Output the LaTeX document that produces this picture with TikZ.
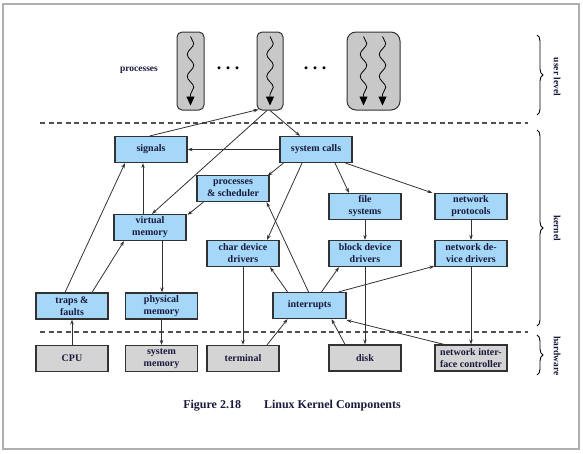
\documentclass[tikz,border=0pt]{standalone}
\usepackage{fontspec}
\setmainfont{Liberation Serif}
\usetikzlibrary{arrows.meta,decorations.pathmorphing,decorations.pathreplacing}
\definecolor{txt}{RGB}{25,25,60}
\definecolor{kblue}{RGB}{165,215,248}
\definecolor{hgray}{RGB}{212,212,212}
\definecolor{pgray}{RGB}{200,200,200}
\definecolor{edgec}{RGB}{50,50,50}
\definecolor{sepc}{RGB}{80,80,80}
\definecolor{framec}{RGB}{175,175,175}
\begin{document}
\begin{tikzpicture}[x=1pt,y=-1pt,
 box/.style={draw=edgec, line width=1.2pt, minimum width=72pt, minimum height=26pt, inner sep=0pt, align=center, font=\fontsize{10}{12}\selectfont\bfseries, text=txt},
 kbox/.style={box, fill=kblue},
 hbox/.style={box, fill=hgray},
 pbox/.style={draw=edgec, line width=1pt, fill=pgray, inner sep=0pt},
 conn/.style={draw=edgec, line width=0.8pt, -{Stealth[length=5pt,width=3.5pt]}},
 wave/.style={draw=black, line width=0.8pt, decorate, decoration={snake, amplitude=3.3pt, segment length=22pt, post length=10pt}, -{Triangle[length=9pt,width=8pt]}},
 sep/.style={draw=sepc, line width=1.3pt, dash pattern=on 5pt off 3.5pt},
 side/.style={font=\fontsize{9.5}{11}\selectfont\bfseries, text=txt, rotate=-90},
 brc/.style={draw=black, line width=0.9pt, decorate, decoration={brace, amplitude=6pt}}
]
\useasboundingbox (0,0) rectangle (583,453);
\draw[framec, line width=1.5pt] (3,4) rectangle (579,449);

% user level
\node[pbox, rounded corners=5pt, minimum width=27pt, minimum height=78pt] (p1) at (190.5,71) {};
\node[pbox, rounded corners=5pt, minimum width=26pt, minimum height=78pt] (p2) at (270,71) {};
\node[pbox, rounded corners=9pt, minimum width=53pt, minimum height=78pt] (p3) at (373.5,71) {};
\draw[wave] ([yshift=-5pt]p1.north) -- ([yshift=5pt]p1.south);
\draw[wave] ([yshift=-5pt]p2.north) -- ([yshift=5pt]p2.south);
\draw[wave] ([xshift=-10pt,yshift=-5pt]p3.north) -- ([xshift=-10pt,yshift=5pt]p3.south);
\draw[wave] ([xshift=9pt,yshift=-5pt]p3.north) -- ([xshift=9pt,yshift=5pt]p3.south);
\node[font=\fontsize{9.5}{11}\selectfont\bfseries, text=txt] (proclbl) at (139,70) {processes};
\node[font=\fontsize{18}{18}\selectfont\bfseries, text=black, inner sep=0pt] (dots1) at (228,68) {.\hspace{4.5pt}.\hspace{4.5pt}.};
\node[font=\fontsize{18}{18}\selectfont\bfseries, text=black, inner sep=0pt] (dots2) at (315,68) {.\hspace{4.5pt}.\hspace{4.5pt}.};

% separators
\draw[sep] (40,123) -- (528,123);
\draw[sep] (40,332) -- (528,332);

% kernel boxes
\node[kbox] (signals) at (151,149.5) {signals};
\node[kbox] (syscalls) at (316,149.5) {system calls};
\node[kbox] (procsched) at (233,188.5) {processes\\\& scheduler};
\node[kbox] (fs) at (365,206.5) {file\\systems};
\node[kbox] (netproto) at (471,206.5) {network\\protocols};
\node[kbox] (vm) at (150,227.5) {virtual\\memory};
\node[kbox] (chardev) at (243,253.5) {char device\\drivers};
\node[kbox] (blockdev) at (365,253.5) {block device\\drivers};
\node[kbox] (netdev) at (471,253.5) {network de-\\vice drivers};
\node[kbox] (traps) at (72,306) {traps \&\\faults};
\node[kbox] (physmem) at (161.5,306) {physical\\memory};
\node[kbox, minimum width=73pt] (interrupts) at (309.5,305.5) {interrupts};

% hardware boxes
\node[hbox] (cpu) at (72,358.5) {CPU};
\node[hbox] (sysmem) at (161.5,358.5) {system\\memory};
\node[hbox] (terminal) at (243,358.5) {terminal};
\node[hbox] (disk) at (365,358) {disk};
\node[hbox] (nic) at (471,358) {network inter-\\face controller};

% connectors
\draw[conn] ([xshift=-1pt]signals.north) -- ([xshift=2pt,yshift=1pt]p2.south west);
\draw[conn] (p2.south) -- ([xshift=-16pt]syscalls.north);
\draw[conn] ([xshift=-3pt]p2.south) -- ([xshift=2pt]vm.north);
\draw[conn] (syscalls.west) -- (signals.east);
\draw[conn] ([xshift=4pt]syscalls.south west) -- ([xshift=-2pt,yshift=-1pt]procsched.north east);
\draw[conn] ([xshift=-14pt]syscalls.south) -- ([xshift=24pt]chardev.north);
\draw[conn] ([xshift=19pt]syscalls.south) -- ([xshift=-16pt]fs.north);
\draw[conn] ([xshift=-7pt]syscalls.south east) -- ([xshift=-2pt]netproto.north west);
\draw[conn] ([xshift=7pt]procsched.south west) -- ([xshift=1pt,yshift=-1pt]vm.north east);
\draw[conn] ([xshift=-7pt]vm.north) -- ([xshift=-8pt]signals.south);
\draw[conn] ([xshift=12pt]vm.south) -- ([xshift=0.5pt]physmem.north);
\draw[conn] ([xshift=-7pt]traps.north) -- ([xshift=-26pt]signals.south);
\draw[conn] ([xshift=20pt]traps.north) -- ([xshift=-26pt]vm.south);
\draw[conn] (cpu.north) -- (traps.south);
\draw[conn] (physmem.south) -- (sysmem.north);
\draw[conn] (chardev.south) -- (terminal.north);
\draw[conn] ([xshift=24pt]terminal.north) -- ([xshift=-22pt]interrupts.south);
\draw[conn] ([xshift=-22pt]interrupts.north) -- ([xshift=27pt]chardev.south);
\draw[conn] ([xshift=-1pt]interrupts.north) -- ([xshift=-3pt]procsched.south east);
\draw[conn] ([xshift=12pt]interrupts.north) -- ([xshift=-26pt]blockdev.south);
\draw[conn] ([xshift=-8pt]interrupts.north east) -- ([yshift=1pt]netdev.south west);
\draw[conn] (fs.south) -- (blockdev.north);
\draw[conn] (netproto.south) -- (netdev.north);
\draw[conn] (blockdev.south) -- (disk.north);
\draw[conn] (netdev.south) -- (nic.north);
\draw[conn] ([xshift=-20pt]disk.north) -- ([xshift=22pt]interrupts.south);
\draw[conn] ([xshift=-27pt]nic.north) -- ([yshift=-1pt]interrupts.south east);

% braces and side labels
\coordinate (ut) at (537,35);
\coordinate (ub) at (537,115);
\coordinate (kt) at (537,130);
\coordinate (kb) at (537,326);
\coordinate (ht) at (537,335);
\coordinate (hb) at (537,375);
\draw[brc] (ut) -- (ub);
\draw[brc] (kt) -- (kb);
\draw[brc] (ht) -- (hb);
\node[side] (ulbl) at (557,77) {user level};
\node[side] (klbl) at (557,228) {kernel};
\node[side] (hlbl) at (557,356) {hardware};

% caption
\node[font=\fontsize{12}{14}\selectfont\bfseries, text=txt] (caption) at (292,406) {Figure 2.18\hspace{23pt}Linux Kernel Components};
\end{tikzpicture}
\end{document}
